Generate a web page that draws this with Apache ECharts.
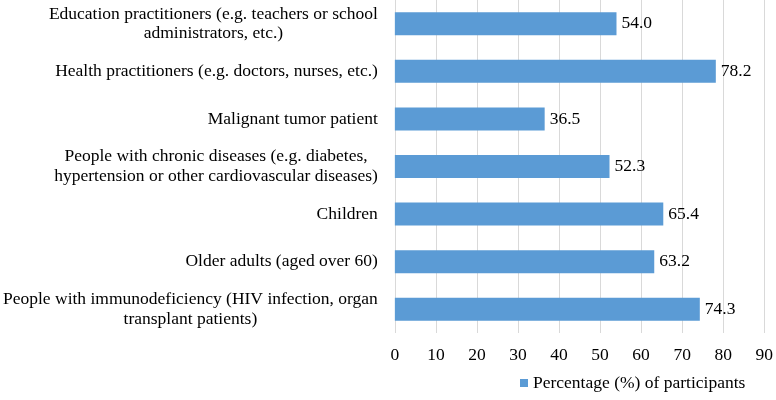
<!DOCTYPE html>
<html>
<head>
<meta charset="utf-8">
<script src="https://cdn.jsdelivr.net/npm/echarts@6/dist/echarts.min.js"></script>
<style>
html,body{margin:0;padding:0;background:#fff;}
#chart{width:776px;height:400px;}
</style>
</head>
<body>
<div id="chart"></div>
<script>
const categories = [
  "Education practitioners (e.g. teachers or school\nadministrators, etc.)",
  "Health practitioners (e.g. doctors, nurses, etc.)",
  "Malignant tumor patient",
  "People with chronic diseases (e.g. diabetes,\nhypertension or other cardiovascular diseases)",
  "Children",
  "Older adults (aged over 60)",
  "People with immunodeficiency (HIV infection, organ\ntransplant patients)"
];
const values = [54.0, 78.2, 36.5, 52.3, 65.4, 63.2, 74.3];
const seriesName = "Percentage (%) of participants";
const xTicks = [0, 10, 20, 30, 40, 50, 60, 70, 80, 90];

const FONT = "'Liberation Serif', 'Times New Roman', serif";
const FS = 17.5;
const chart = echarts.init(document.getElementById('chart'));
chart.setOption({
  animation: false,
  backgroundColor: '#ffffff',
  grid: { left: 392, right: 9, top: 0, bottom: 67, containLabel: false },
  xAxis: {
    type: 'value',
    min: xTicks[0],
    max: xTicks[xTicks.length - 1],
    interval: xTicks[1] - xTicks[0],
    axisLine: { show: false },
    axisTick: { show: false },
    splitLine: { show: true, lineStyle: { color: '#d9d9d9', width: 1 } },
    axisLabel: { fontFamily: FONT, fontSize: FS, color: '#000', margin: 13 }
  },
  yAxis: {
    type: 'category',
    inverse: true,
    data: categories,
    axisLine: { show: false },
    axisTick: { show: false },
    axisLabel: {
      margin: 17,
      fontFamily: FONT,
      fontSize: FS,
      color: '#000',
      formatter: function (v) {
        return v.split('\n').map(function (l) { return '{c|' + l + '}'; }).join('\n');
      },
      rich: {
        c: { align: 'center', fontFamily: FONT, fontSize: FS, lineHeight: 19.5, color: '#000' }
      }
    }
  },
  legend: {
    data: [seriesName],
    left: 515,
    top: 369,
    icon: 'rect',
    itemWidth: 8,
    itemHeight: 8,
    textStyle: { fontFamily: FONT, fontSize: FS, color: '#000' }
  },
  series: [{
    name: seriesName,
    type: 'bar',
    data: values,
    barWidth: 23,
    itemStyle: { color: '#5b9bd5' },
    label: {
      show: true,
      position: 'right',
      distance: 5,
      fontFamily: FONT,
      fontSize: FS,
      color: '#000',
      formatter: function (p) { return p.value.toFixed(1); }
    }
  }]
});
</script>
</body>
</html>
